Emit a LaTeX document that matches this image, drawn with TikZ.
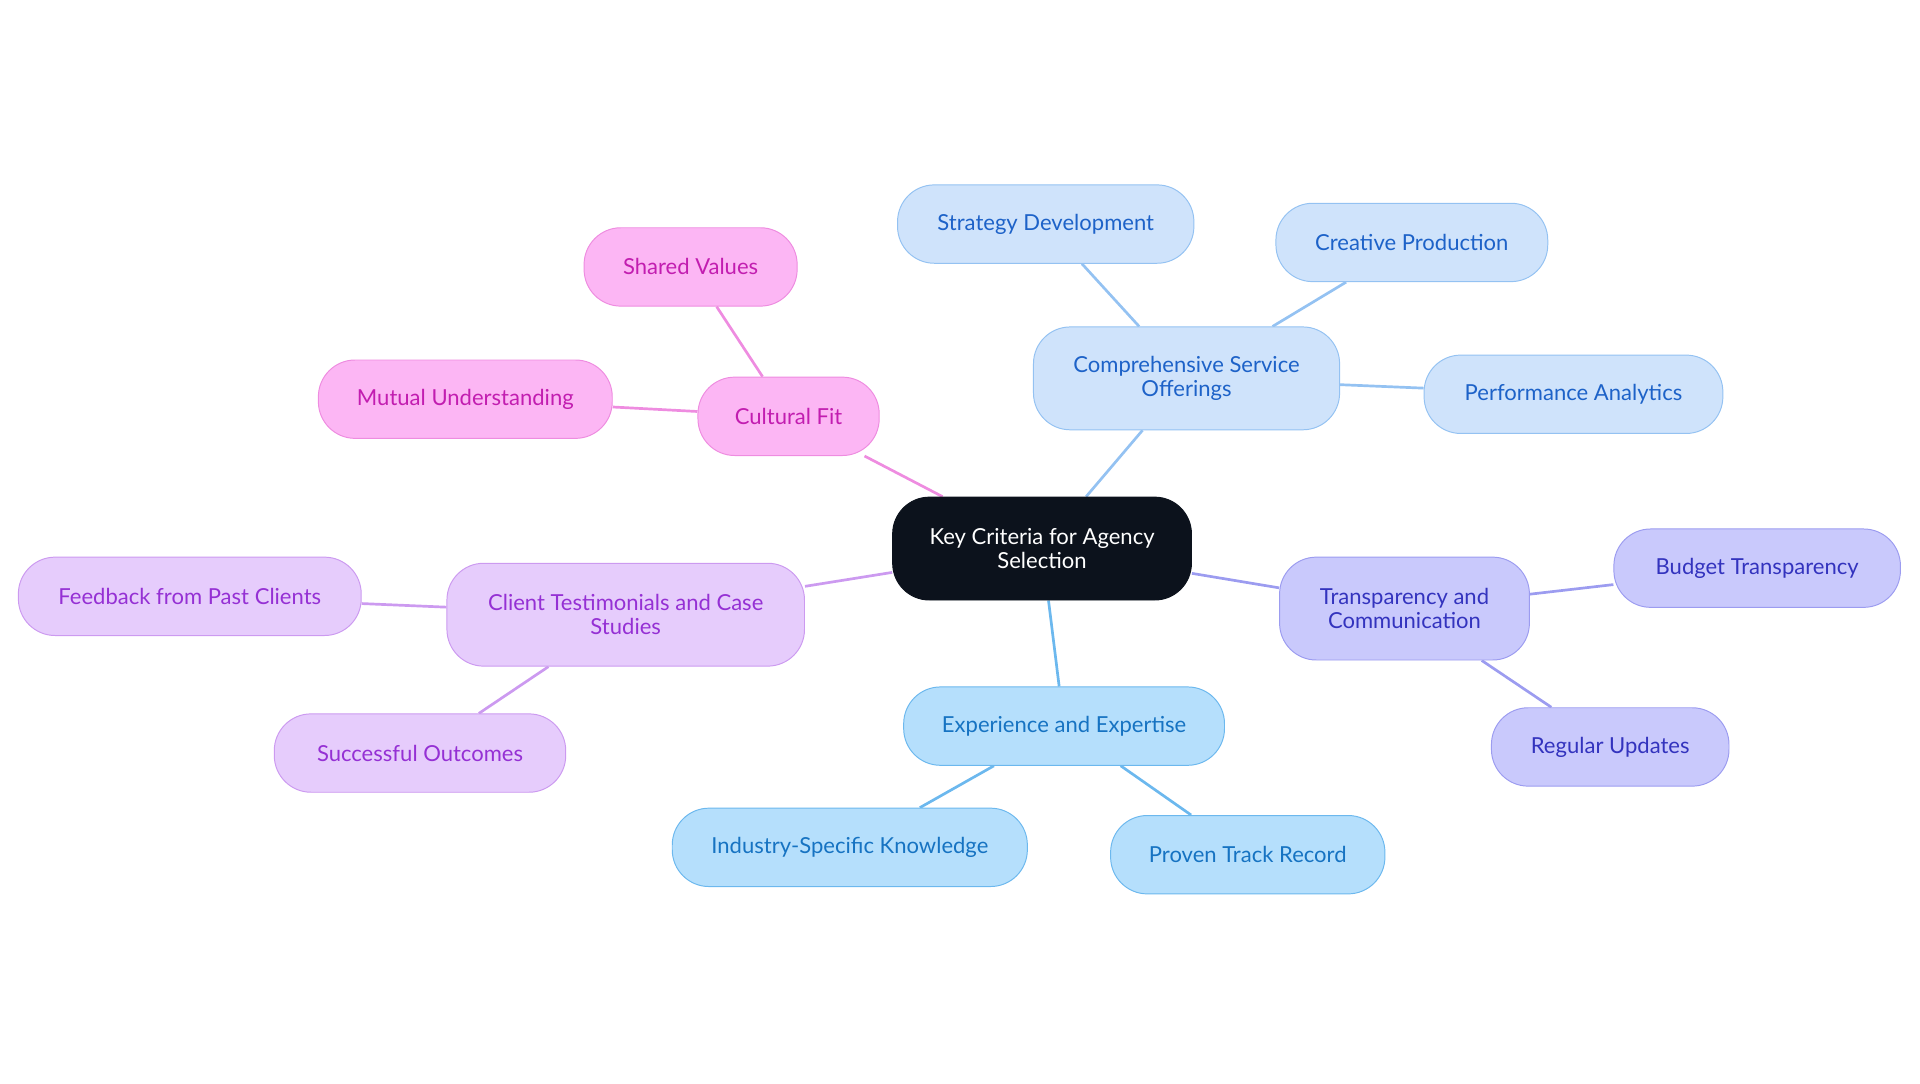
\documentclass[tikz,border=0pt]{standalone}
\usepackage{fontspec}
\setmainfont{Lato}
\usetikzlibrary{backgrounds}
\definecolor{rootfill}{HTML}{0C121C}
\definecolor{csfill}{HTML}{CFE3FB}\definecolor{csdraw}{HTML}{94C2F2}\definecolor{cstext}{HTML}{1D62C8}
\definecolor{cffill}{HTML}{FCB6F4}\definecolor{cfdraw}{HTML}{EE8CE0}\definecolor{cftext}{HTML}{C21DB0}
\definecolor{ctfill}{HTML}{E6CCFC}\definecolor{ctdraw}{HTML}{CC9AF0}\definecolor{cttext}{HTML}{9530D4}
\definecolor{eefill}{HTML}{B5DFFC}\definecolor{eedraw}{HTML}{6CB8EE}\definecolor{eetext}{HTML}{1673C2}
\definecolor{tcfill}{HTML}{C9C9FC}\definecolor{tcdraw}{HTML}{9C9CF0}\definecolor{tctext}{HTML}{3333BE}
\tikzset{
  box/.style={rounded corners=30pt, minimum height=64pt, align=center, line width=0.8pt,
    font=\fontsize{18}{20}\selectfont, inner xsep=0pt},
  big/.style={minimum height=84pt},
  cs/.style={box, fill=csfill, draw=csdraw, text=cstext},
  cf/.style={box, fill=cffill, draw=cfdraw, text=cftext},
  ct/.style={box, fill=ctfill, draw=ctdraw, text=cttext},
  ee/.style={box, fill=eefill, draw=eedraw, text=eetext},
  tc/.style={box, fill=tcfill, draw=tcdraw, text=tctext},
  link/.style={line width=2.2pt}
}
\begin{document}
\begin{tikzpicture}[x=1pt,y=-1pt]
	\useasboundingbox (0,0) rectangle (1568,885);
	% centre
	\node[box, big, fill=rootfill, draw=rootfill, text=white, minimum width=244pt] (root) at (851,448) {Key Criteria for Agency\\Selection};
	
	% services
	\node[cs, big, minimum width=250pt] (cso) at (969,309) {Comprehensive Service\\Offerings};
	\node[cs, minimum width=242pt] (sd) at (854,183) {Strategy Development};
	\node[cs, minimum width=222pt] (cp) at (1153,198) {Creative Production};
	\node[cs, minimum width=244pt] (pa) at (1285,322) {Performance Analytics};
	
	% culture
	\node[cf, minimum width=148pt] (fit) at (644,340) {Cultural Fit};
	\node[cf, minimum width=174pt] (sv) at (564,218) {Shared Values};
	\node[cf, minimum width=240pt] (mu) at (380,326) {Mutual Understanding};
	
	% testimonials
	\node[ct, big, minimum width=292pt] (tcs) at (511,502) {Client Testimonials and Case\\Studies};
	\node[ct, minimum width=280pt] (fpc) at (155,487) {Feedback from Past Clients};
	\node[ct, minimum width=238pt] (so) at (343,615) {Successful Outcomes};
	
	% experience
	\node[ee, minimum width=262pt] (exp) at (869,593) {Experience and Expertise};
	\node[ee, minimum width=290pt] (isk) at (694,692) {Industry-Specific Knowledge};
	\node[ee, minimum width=224pt] (ptr) at (1019,698) {Proven Track Record};
	
	% transparency
	\node[tc, big, minimum width=204pt] (trc) at (1147,497) {Transparency and\\Communication};
	\node[tc, minimum width=234pt] (bt) at (1435,464) {Budget Transparency};
	\node[tc, minimum width=194pt] (ru) at (1315,610) {Regular Updates};
	
	\begin{scope}[on background layer]
		\draw[link, csdraw] (root) -- (cso) (cso) -- (sd) (cso) -- (cp) (cso) -- (pa);
		\draw[link, cfdraw] (root) -- (fit) (fit) -- (sv) (fit) -- (mu);
		\draw[link, ctdraw] (root) -- (tcs) (tcs) -- (fpc) (tcs) -- (so);
		\draw[link, eedraw] (root) -- (exp) (exp) -- (isk) (exp) -- (ptr);
		\draw[link, tcdraw] (root) -- (trc) (trc) -- (bt) (trc) -- (ru);
	\end{scope}
\end{tikzpicture}
\end{document}
